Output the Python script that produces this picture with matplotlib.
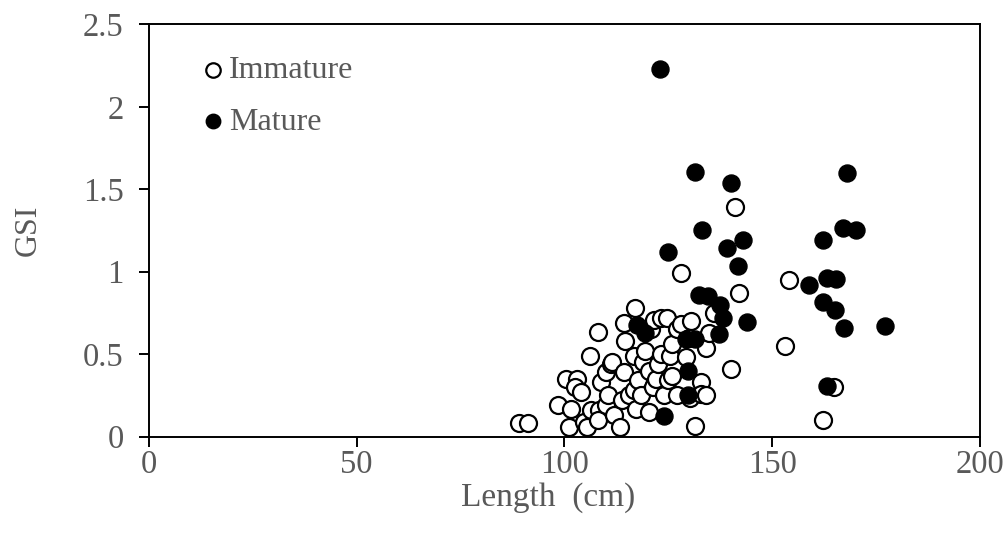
import matplotlib
matplotlib.use("Agg")
import matplotlib.pyplot as plt

plt.rcParams['font.family'] = ['Liberation Serif', 'DejaVu Serif']

# Immature fish: length (cm), GSI
imm_len = [89.1, 91.2, 98.5, 100.4, 101.6, 101.1, 103.0, 102.5, 104.0, 104.7,
           105.5, 106.5, 106.3, 108.1, 108.4, 108.9, 108.0, 110.0, 110.5, 110.0,
           111.3, 111.5, 112.0, 113.4, 114.0, 114.3, 114.6, 114.4, 115.5, 116.7,
           117.1, 116.8, 117.7, 117.2, 118.5, 119.0, 119.5, 120.5, 120.5, 120.9,
           121.4, 121.7, 122.1, 122.6, 123.3, 123.2, 124.0, 124.6, 125.0, 125.4,
           125.8, 126.0, 127.0, 127.0, 128.2, 129.4, 130.2, 130.6, 130.0, 133.0,
           133.0, 134.2, 134.2, 134.7, 136.0, 131.4, 128.0, 141.0, 142.0, 140.0,
           154.0, 153.0, 162.3, 165.0]
imm_gsi = [0.085, 0.085, 0.19, 0.35, 0.17, 0.06, 0.35, 0.30, 0.27, 0.09,
           0.06, 0.16, 0.49, 0.635, 0.16, 0.33, 0.10, 0.19, 0.25, 0.39,
           0.44, 0.45, 0.13, 0.06, 0.22, 0.39, 0.58, 0.69, 0.25, 0.28,
           0.78, 0.49, 0.345, 0.17, 0.25, 0.45, 0.52, 0.15, 0.40, 0.65,
           0.30, 0.71, 0.35, 0.44, 0.72, 0.50, 0.25, 0.72, 0.345, 0.49,
           0.56, 0.37, 0.65, 0.25, 0.685, 0.48, 0.235, 0.70, 0.60, 0.33,
           0.26, 0.25, 0.54, 0.63, 0.75, 0.065, 0.99, 1.39, 0.87, 0.41,
           0.95, 0.55, 0.10, 0.30]

# Mature fish: length (cm), GSI
mat_len = [123.0, 131.4, 140.1, 168.0, 133.2, 143.0, 139.1, 125.0, 141.8, 162.3,
           167.0, 170.2, 163.2, 165.3, 159.0, 162.3, 165.2, 167.2, 177.2, 163.2,
           132.3, 134.6, 137.4, 138.3, 143.9, 137.2, 117.5, 119.3, 129.4, 131.4,
           129.8, 129.8, 124.1]
mat_gsi = [2.23, 1.606, 1.535, 1.598, 1.255, 1.195, 1.144, 1.12, 1.034, 1.195,
           1.265, 1.255, 0.963, 0.953, 0.917, 0.815, 0.766, 0.659, 0.673, 0.304,
           0.858, 0.852, 0.801, 0.72, 0.694, 0.623, 0.675, 0.629, 0.592, 0.592,
           0.395, 0.254, 0.124]

x_ticks = [0, 50, 100, 150, 200]
y_ticks = [0, 0.5, 1, 1.5, 2, 2.5]
y_labels = ['0', '0.5', '1', '1.5', '2', '2.5']

gray = '#595959'

fig = plt.figure(figsize=(10.05, 5.41), dpi=100)
ax = fig.add_axes([0.148, 0.193, 0.827, 0.762])

ax.scatter(imm_len, imm_gsi, s=150, facecolors='white', edgecolors='black',
           linewidths=1.6, label='Immature', zorder=3)
ax.scatter(mat_len, mat_gsi, s=150, facecolors='black', edgecolors='black',
           linewidths=1.0, label='Mature', zorder=4)

ax.set_xlim(0, 200)
ax.set_ylim(0, 2.5)
ax.set_xticks(x_ticks)
ax.set_xticklabels([str(v) for v in x_ticks])
ax.set_yticks(y_ticks)
ax.set_yticklabels(y_labels)

for sp in ax.spines.values():
    sp.set_linewidth(1.4)
    sp.set_color('black')

ax.tick_params(axis='both', direction='out', length=7, width=1.4, colors='black',
               labelcolor=gray, labelsize=23.5)
ax.tick_params(axis='y', pad=11)
ax.tick_params(axis='x', pad=2)

ax.set_xlabel('Length  (cm)', fontsize=24, color=gray, labelpad=2)
ax.xaxis.set_label_coords(0.48, -0.11)
ax.set_ylabel('GSI', fontsize=23, color=gray, labelpad=29)

leg = ax.legend(loc='upper left', bbox_to_anchor=(0.043, 0.955), frameon=False,
                fontsize=23, markerscale=0.85, handletextpad=0.0,
                labelspacing=0.7, borderaxespad=0.0, handlelength=1.0)
for t in leg.get_texts():
    t.set_color(gray)

fig.savefig('out.png', dpi=100)
